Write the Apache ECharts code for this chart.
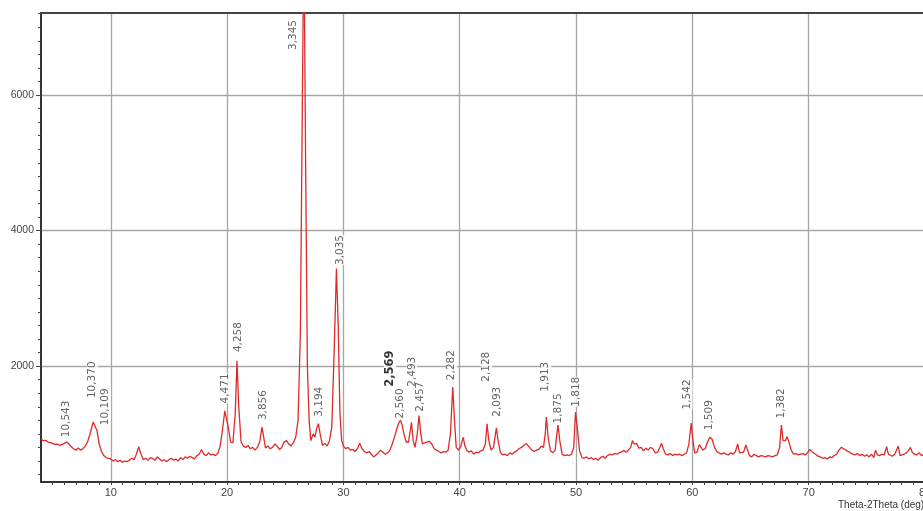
<!DOCTYPE html>
<html lang="en">
  <head>
    <meta charset="UTF-8" />
    <title>XRD pattern</title>
    <style>
      * {
        margin: 0;
        padding: 0;
      }
      body {
        background: #fff;
      }
    </style>
  </head>
  <body>
    <div id="main" style="width: 923px; height: 511px;"></div>
    <script src="https://cdn.jsdelivr.net/npm/echarts@6/dist/echarts.min.js"></script>
    <script>
      // measured scan: [2theta (deg), counts]
      const scan = [
        [4.0, 920], [4.2, 900], [4.4, 905], [4.6, 880], [4.8, 870], [5.0, 860], [5.2, 845], [5.4, 850],
        [5.6, 830], [5.8, 840], [6.0, 860], [6.2, 880], [6.4, 850], [6.6, 810], [6.8, 780], [7.0, 760],
        [7.2, 790], [7.4, 760], [7.6, 780], [7.8, 820], [8.0, 880], [8.2, 990], [8.4, 1120], [8.5, 1175],
        [8.6, 1150], [8.7, 1090], [8.8, 1060], [8.9, 960], [9.0, 850], [9.2, 740], [9.4, 680], [9.6, 650],
        [9.8, 640], [10.0, 630], [10.2, 600], [10.4, 620], [10.6, 590], [10.8, 610], [11.0, 580], [11.2, 600],
        [11.4, 590], [11.6, 610], [11.8, 640], [12.0, 620], [12.2, 700], [12.4, 810], [12.6, 700], [12.8, 620],
        [13.0, 640], [13.2, 610], [13.4, 650], [13.6, 640], [13.8, 610], [14.0, 660], [14.2, 630], [14.4, 600],
        [14.6, 620], [14.8, 590], [15.0, 620], [15.2, 640], [15.4, 610], [15.6, 630], [15.8, 600], [16.0, 650],
        [16.2, 620], [16.4, 660], [16.6, 640], [16.8, 670], [17.0, 650], [17.2, 630], [17.4, 680], [17.6, 700],
        [17.8, 770], [18.0, 700], [18.2, 680], [18.4, 720], [18.6, 690], [18.8, 700], [19.0, 680], [19.2, 710],
        [19.4, 820], [19.6, 1050], [19.8, 1340], [19.95, 1360], [20.1, 1100], [20.3, 880], [20.5, 870], [20.7, 1300],
        [20.85, 2080], [21.0, 1400], [21.2, 880], [21.4, 820], [21.6, 800], [21.8, 830], [22.0, 780], [22.2, 800],
        [22.4, 760], [22.6, 800], [22.8, 880], [23.0, 1100], [23.15, 950], [23.3, 790], [23.5, 820], [23.7, 780],
        [23.9, 800], [24.1, 850], [24.3, 820], [24.5, 770], [24.7, 800], [24.9, 880], [25.1, 900], [25.3, 850],
        [25.5, 820], [25.7, 870], [25.9, 950], [26.1, 1200], [26.3, 2500], [26.45, 5500], [26.6, 8500], [26.75, 5000],
        [26.9, 2000], [27.05, 1200], [27.2, 900], [27.4, 1000], [27.55, 950], [27.7, 1080], [27.85, 1150], [28.0, 1000],
        [28.2, 830], [28.4, 860], [28.6, 820], [28.8, 900], [29.0, 1100], [29.2, 2200], [29.4, 3440], [29.55, 2600],
        [29.7, 1300], [29.85, 900], [30.0, 820], [30.2, 780], [30.4, 800], [30.6, 760], [30.8, 770], [31.0, 740],
        [31.2, 780], [31.4, 860], [31.6, 780], [31.8, 740], [32.0, 720], [32.2, 740], [32.4, 700], [32.6, 660],
        [32.8, 690], [33.0, 720], [33.2, 760], [33.4, 730], [33.6, 700], [33.8, 720], [34.0, 760], [34.2, 850],
        [34.4, 960], [34.6, 1080], [34.75, 1160], [34.9, 1200], [35.05, 1130], [35.2, 1000], [35.4, 880], [35.6, 880],
        [35.85, 1170], [36.0, 900], [36.15, 800], [36.35, 1000], [36.5, 1270], [36.65, 1000], [36.8, 850], [37.0, 870],
        [37.2, 880], [37.4, 890], [37.6, 850], [37.8, 780], [38.0, 760], [38.2, 740], [38.4, 720], [38.6, 740],
        [38.8, 730], [39.0, 760], [39.2, 1000], [39.4, 1690], [39.55, 1200], [39.7, 800], [39.9, 760], [40.1, 820],
        [40.3, 950], [40.45, 820], [40.6, 760], [40.8, 730], [41.0, 750], [41.2, 700], [41.4, 730], [41.6, 720],
        [41.8, 750], [42.0, 760], [42.2, 850], [42.35, 1150], [42.5, 900], [42.7, 760], [42.9, 800], [43.15, 1090],
        [43.3, 900], [43.5, 720], [43.7, 690], [43.9, 700], [44.1, 680], [44.3, 720], [44.5, 700], [44.7, 730],
        [44.9, 750], [45.1, 780], [45.3, 800], [45.5, 830], [45.7, 860], [45.85, 870], [46.0, 800], [46.2, 760],
        [46.4, 740], [46.6, 760], [46.8, 770], [47.0, 820], [47.2, 800], [47.35, 1000], [47.45, 1250], [47.6, 950],
        [47.8, 750], [48.0, 720], [48.2, 760], [48.35, 1000], [48.45, 1130], [48.6, 900], [48.8, 700], [49.0, 680],
        [49.2, 690], [49.4, 680], [49.6, 700], [49.8, 800], [49.95, 1320], [50.1, 1100], [50.3, 750], [50.5, 650],
        [50.7, 640], [50.9, 660], [51.1, 630], [51.3, 650], [51.5, 620], [51.7, 640], [51.9, 610], [52.1, 650],
        [52.3, 670], [52.5, 640], [52.7, 680], [52.9, 700], [53.1, 690], [53.3, 710], [53.5, 700], [53.7, 720],
        [53.9, 730], [54.1, 760], [54.3, 730], [54.5, 760], [54.7, 800], [54.85, 900], [55.0, 850], [55.2, 860],
        [55.4, 790], [55.6, 800], [55.8, 750], [56.0, 790], [56.2, 760], [56.4, 800], [56.6, 780], [56.8, 720],
        [57.0, 730], [57.2, 800], [57.35, 860], [57.5, 780], [57.7, 700], [57.9, 690], [58.1, 710], [58.3, 680],
        [58.5, 700], [58.7, 690], [58.9, 700], [59.1, 680], [59.3, 700], [59.5, 720], [59.7, 850], [59.9, 1160],
        [60.05, 900], [60.2, 720], [60.4, 730], [60.6, 840], [60.75, 800], [60.9, 760], [61.1, 780], [61.3, 880],
        [61.5, 950], [61.7, 920], [61.9, 800], [62.1, 740], [62.3, 720], [62.5, 700], [62.7, 720], [62.9, 700],
        [63.1, 690], [63.3, 720], [63.5, 700], [63.7, 740], [63.9, 850], [64.05, 720], [64.2, 700], [64.4, 730],
        [64.6, 835], [64.75, 760], [64.9, 680], [65.1, 660], [65.3, 700], [65.5, 680], [65.7, 660], [65.9, 680],
        [66.1, 670], [66.3, 660], [66.5, 680], [66.7, 670], [66.9, 660], [67.1, 680], [67.3, 690], [67.5, 800],
        [67.65, 1130], [67.8, 900], [68.0, 900], [68.15, 960], [68.3, 880], [68.5, 760], [68.7, 700], [68.9, 710],
        [69.1, 690], [69.3, 700], [69.5, 710], [69.7, 690], [69.9, 720], [70.1, 770], [70.25, 785], [70.4, 720],
        [70.6, 700], [70.8, 670], [71.0, 660], [71.2, 640], [71.4, 650], [71.6, 630], [71.8, 660], [72.0, 650],
        [72.2, 680], [72.4, 700], [72.6, 760], [72.8, 800], [73.0, 780], [73.2, 760], [73.4, 740], [73.6, 720],
        [73.8, 700], [74.0, 690], [74.2, 710], [74.4, 680], [74.6, 700], [74.8, 670], [75.0, 690], [75.2, 660],
        [75.4, 700], [75.6, 650], [75.75, 760], [75.9, 690], [76.1, 680], [76.3, 700], [76.5, 690], [76.7, 810],
        [76.85, 700], [77.0, 690], [77.2, 670], [77.4, 700], [77.7, 820], [77.85, 680], [78.0, 660], [78.2, 700],
        [78.4, 720], [78.6, 760], [78.75, 800], [78.9, 730], [79.1, 700], [79.3, 690], [79.5, 720], [79.7, 680],
        [79.9, 700], [80.0, 690]
      ];

      // d-spacing labels and where their text starts (2theta, counts)
      const peakNames = [
        "10,543", "10,370", "10,109", "4,471", "4,258", "3,856", "3,345", "3,194", "3,035",
        "2,569", "2,560", "2,493", "2,457", "2,282", "2,128", "2,093", "1,913", "1,875",
        "1,818", "1,542", "1,509", "1,382"
      ];
      const peakAngles = [
        6.15, 8.41, 9.55, 19.84, 20.93, 23.08, 25.68, 27.91, 29.72,
        34.01, 34.87, 35.88, 36.59, 39.31, 42.32, 43.23, 47.39, 48.47,
        50.05, 59.55, 61.44, 67.66
      ];
      const peakCounts = [
        950, 1528, 1129, 1449, 2207, 1203, 6664, 1252, 3491,
        1695, 1228, 1695, 1326, 1793, 1769, 1252, 1621, 1154,
        1400, 1361, 1055, 1228
      ];

      const xLabels = [10, 20, 30, 40, 50, 60, 70, 80];
      const xMinor = [];
      for (let v = 5; v <= 80; v++) xMinor.push(v);
      const yLabels = [2000, 4000, 6000];
      const yMinor = [];
      for (let v = 400; v <= 7200; v += 200) yMinor.push(v);

      function draw() {
        let myEcharts = echarts.init(document.getElementById("main"));
        let labelData = peakNames.map(function (name, i) {
          let item = { value: [peakAngles[i], peakCounts[i]], name: name };
          if (name === "2,569") {
            item.label = { color: "#000", fontWeight: "bold", fontSize: 11.5 };
          }
          return item;
        });
        let option = {
          animation: false,
          backgroundColor: "#fff",
          grid: { left: 41, right: -2, top: 13, bottom: 29, outerBoundsMode: "none", containLabel: false },
          xAxis: [
            {
              type: "value",
              min: 4,
              max: 80,
              axisLine: { onZero: false, lineStyle: { color: "#333", width: 2 } },
              axisTick: { customValues: xMinor, length: 3, lineStyle: { color: "#444" } },
              axisLabel: {
                customValues: xLabels,
                color: "#444",
                fontFamily: "Liberation Sans",
                fontSize: 11,
                margin: 5,
              },
              splitLine: { show: false },
            },
            {
              type: "value",
              position: "top",
              min: 4,
              max: 80,
              axisLine: { lineStyle: { color: "#444", width: 2 } },
              axisTick: { show: false, customValues: [10, 20, 30, 40, 50, 60, 70] },
              axisLabel: { show: false },
              splitLine: { show: true, lineStyle: { color: "#a6a6a6", width: 1.3 } },
            },
          ],
          yAxis: [
            {
              type: "value",
              min: 290,
              max: 7210,
              axisLine: { show: true, onZero: false, lineStyle: { color: "#333", width: 2 } },
              axisTick: { customValues: yMinor, length: 3, lineStyle: { color: "#444" } },
              axisLabel: {
                customValues: yLabels,
                color: "#444",
                fontFamily: "Liberation Sans",
                fontSize: 10.5,
                margin: 7,
                formatter: function (v) {
                  return String(v);
                },
              },
              splitLine: { show: false },
            },
            {
              type: "value",
              position: "left",
              min: 290,
              max: 7210,
              axisLine: { show: false },
              axisTick: { show: true, customValues: yLabels, length: 5, lineStyle: { color: "#444" } },
              axisLabel: { show: false },
              splitLine: { show: true, lineStyle: { color: "#a6a6a6", width: 1.3 } },
            },
          ],
          graphic: [
            {
              type: "text",
              left: 838,
              top: 500,
              style: {
                text: "Theta-2Theta (deg)",
                fill: "#333",
                font: "10px Liberation Sans",
              },
            },
          ],
          series: [
            {
              name: "scan",
              type: "line",
              data: scan,
              showSymbol: false,
              clip: true,
              lineStyle: { color: "#dd2a2a", width: 1.3 },
              z: 3,
            },
            {
              name: "peaks",
              type: "scatter",
              data: labelData,
              symbolSize: 0,
              z: 4,
              label: {
                show: true,
                position: "top",
                distance: 0,
                rotate: 90,
                align: "left",
                verticalAlign: "middle",
                formatter: "{b}",
                color: "#3a3a3a",
                fontFamily: "DejaVu Sans",
                fontSize: 10.5,
                backgroundColor: "#fff",
              },
            },
          ],
        };
        myEcharts.setOption(option);
      }
      draw();
    </script>
  </body>
</html>
